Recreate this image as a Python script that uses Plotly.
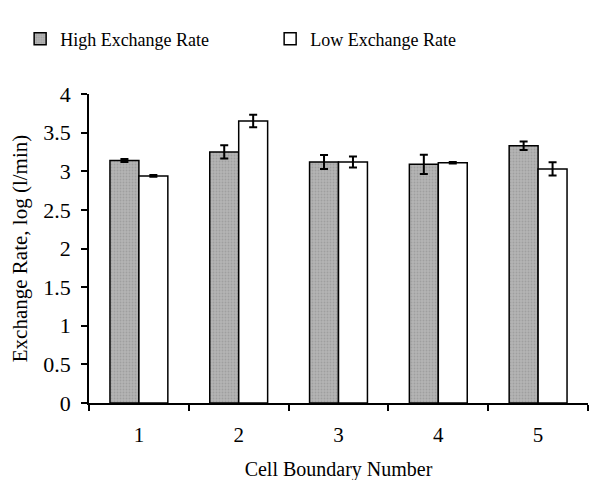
import plotly.graph_objects as go

categories = ["1", "2", "3", "4", "5"]
high_values = [3.14, 3.25, 3.12, 3.09, 3.33]
high_err = [0.02, 0.085, 0.09, 0.125, 0.055]
low_values = [2.94, 3.65, 3.12, 3.11, 3.03]
low_err = [0.01, 0.08, 0.07, 0.01, 0.085]

font_family = "Liberation Serif, Times New Roman, serif"

fig = go.Figure()
fig.add_trace(go.Bar(
    name="High Exchange Rate", x=categories, y=high_values,
    marker=dict(color="#a9a9a9", line=dict(color="black", width=1.5),
                pattern=dict(shape=".", fgcolor="#8a8a8a", bgcolor="#b4b4b4", size=3, solidity=0.3)),
    error_y=dict(type="data", array=high_err, color="black", thickness=2, width=4),
))
fig.add_trace(go.Bar(
    name="Low Exchange Rate", x=categories, y=low_values,
    marker=dict(color="white", line=dict(color="black", width=1.5)),
    error_y=dict(type="data", array=low_err, color="black", thickness=2, width=4),
))

fig.update_layout(
    width=612, height=480,
    margin=dict(l=74, r=32, t=73, b=85),
    paper_bgcolor="white", plot_bgcolor="white",
    barmode="group", bargap=0.42, bargroupgap=0,
    font=dict(family=font_family, size=18, color="black"),
    legend=dict(orientation="h", x=-0.138, y=1.118, xanchor="left", yanchor="bottom",
                bgcolor="rgba(0,0,0,0)",
                font=dict(size=18), entrywidth=205, entrywidthmode="pixels",
                itemwidth=30, traceorder="normal"),
    showlegend=True,
)
fig.update_xaxes(
    type="category", showline=True, linecolor="black", linewidth=1.5,
    ticks="outside", tickson="boundaries", ticklen=6, tickcolor="black", tickwidth=1.5,
    tickfont=dict(size=21), ticklabelstandoff=12, automargin=False,
    showgrid=False, zeroline=False,
    title=dict(text="Cell Boundary Number", standoff=16, font=dict(size=20)),
)
fig.update_yaxes(
    range=[0, 4], dtick=0.5, showline=True, linecolor="black", linewidth=1.5,
    ticks="outside", ticklen=6, tickcolor="black", tickwidth=1.5,
    tickfont=dict(size=22), ticklabelstandoff=6, automargin=False,
    showgrid=False, zeroline=False,
    title=dict(text="Exchange Rate, log (l/min)", standoff=10, font=dict(size=21)),
)

fig.write_html("out.html")
